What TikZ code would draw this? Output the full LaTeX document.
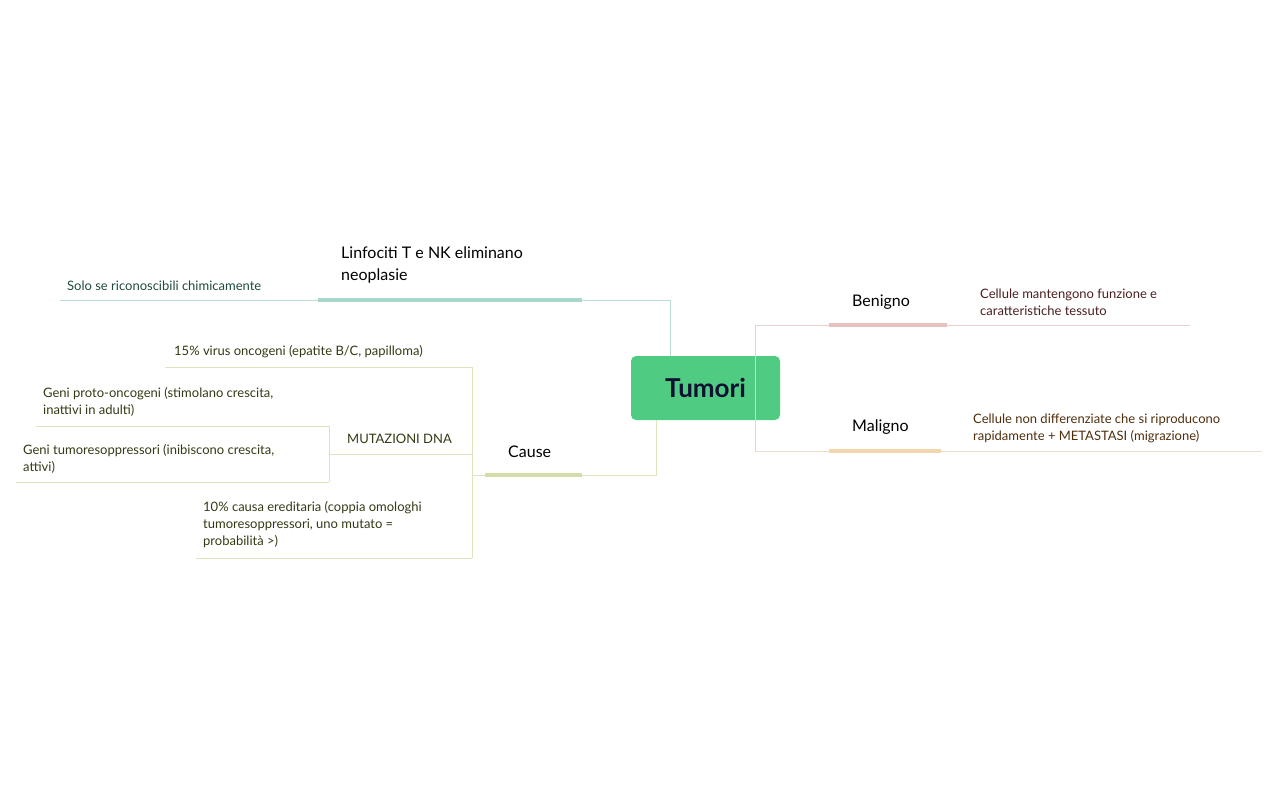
\documentclass[tikz,border=0pt]{standalone}
\usepackage{fontspec}
\setmainfont{Lato}
\begin{document}
\begin{tikzpicture}[x=1pt,y=-1pt,
  lbl/.style={anchor=west,inner sep=0pt,font=\fontsize{16}{22}\selectfont,text=black,align=left},
  sm/.style={anchor=west,inner sep=0pt,font=\fontsize{13}{17}\selectfont,align=left},
  thin/.style={line width=0.8pt}]
\definecolor{green}{HTML}{50CC82}
\definecolor{teal}{HTML}{A8D5CC}\definecolor{tealL}{HTML}{BBDDD6}
\definecolor{olive}{HTML}{D4DCA8}\definecolor{oliveL}{HTML}{DFE4BE}
\definecolor{pink}{HTML}{E8C0C0}\definecolor{pinkL}{HTML}{E6D0D0}
\definecolor{peach}{HTML}{F3D6B0}\definecolor{peachL}{HTML}{EEDFCC}
\definecolor{tg}{HTML}{1F4A40}\definecolor{to}{HTML}{333A14}
\definecolor{tb}{HTML}{4A1E1E}\definecolor{tm}{HTML}{4F2E0C}
\useasboundingbox (0,0) rectangle (1279,792);
% root
\node[fill=green,rounded corners=5pt,minimum width=149pt,minimum height=64pt,inner sep=0pt,
  font=\fontsize{26}{30}\selectfont\bfseries,text={rgb,255:red,10;green,20;blue,40}] (root) at (705.5,388) {Tumori};
% Linfociti
\node[lbl] (lin) at (341,265) {Linfociti T e NK eliminano\\neoplasie};
\coordinate (linL) at (318,300); \coordinate (linR) at (582,300);
\draw[teal,line width=4pt] (linL) -- (linR);
\draw[tealL,thin] (linR) -- (670,300) -- (670,356);
\draw[tealL,thin] (linL) -- (60,300) coordinate (solE);
\node[sm,text=tg] (solo) at (67,286) {Solo se riconoscibili chimicamente};
% Cause
\node[lbl] (cause) at (508,452) {Cause};
\coordinate (cL) at (485,475); \coordinate (cR) at (582,475);
\draw[olive,line width=4pt] (cL) -- (cR);
\draw[oliveL,thin] (cR) -- (656,475) -- (656,420);
\draw[oliveL,thin] (cL) -- (472,475);
\draw[oliveL,thin] (472,367) -- (472,558);
\draw[oliveL,thin] (472,367) -- (165,367);
\node[sm,text=to] (v15) at (174,352) {15\% virus oncogeni (epatite B/C, papilloma)};
\draw[oliveL,thin] (472,454) -- (329,454);
\node[sm,text=to] (mut) at (347,439) {MUTAZIONI DNA};
\draw[oliveL,thin] (329,426) -- (329,482);
\draw[oliveL,thin] (329,426) -- (36,426);
\node[sm,text=to] (proto) at (43,402) {Geni proto-oncogeni (stimolano crescita,\\inattivi in adulti)};
\draw[oliveL,thin] (329,482) -- (16,482);
\node[sm,text=to] (tum) at (23,459) {Geni tumoresoppressori (inibiscono crescita,\\attivi)};
\draw[oliveL,thin] (472,558) -- (196,558);
\node[sm,text=to] (ered) at (203,525) {10\% causa ereditaria (coppia omologhi\\tumoresoppressori, uno mutato =\\probabilità >)};
% Benigno
\draw[pinkL,thin] (780,325) -- (755,325) -- (755,451);
\node[lbl] (ben) at (852,302) {Benigno};
\coordinate (bL) at (829,325); \coordinate (bR) at (947,325);
\draw[pinkL,thin] (755,325) -- (bL);
\draw[pink,line width=4pt] (bL) -- (bR);
\draw[pinkL,thin] (bR) -- (1190,325);
\node[sm,text=tb] (bd) at (980,302) {Cellule mantengono funzione e\\caratteristiche tessuto};
% Maligno
\node[lbl] (mal) at (852,427) {Maligno};
\coordinate (mL) at (829,451); \coordinate (mR) at (941,451);
\draw[peachL,thin] (755,451) -- (mL);
\draw[peach,line width=4pt] (mL) -- (mR);
\draw[peachL,thin] (mR) -- (1262,451);
\node[sm,text=tm] (md) at (973,428) {Cellule non differenziate che si riproducono\\rapidamente + METASTASI (migrazione)};
\end{tikzpicture}
\end{document}
